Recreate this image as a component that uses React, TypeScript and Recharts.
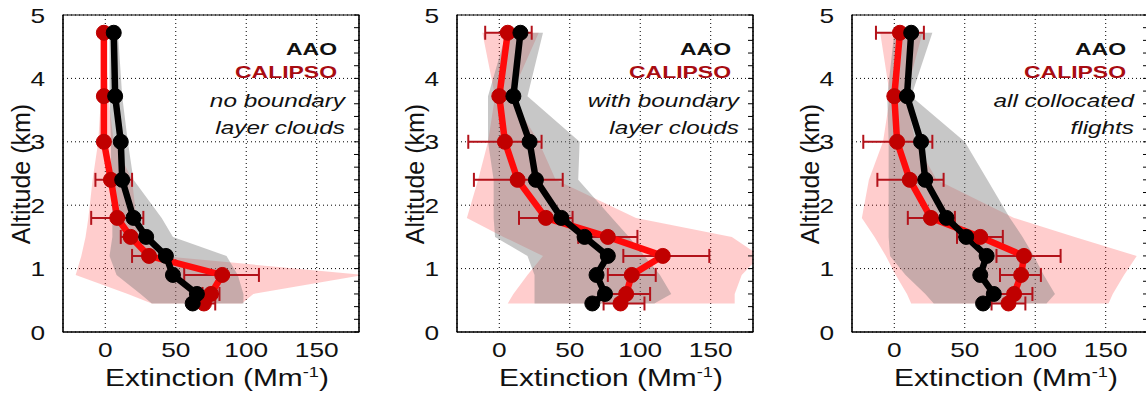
// App.tsx – AAO vs CALIPSO extinction profiles, three panels (no BL clouds / with BL clouds / all flights)

import {
  ComposedChart, Line, Area, XAxis, YAxis,
  CartesianGrid, ErrorBar, ReferenceArea,
} from "recharts";

// ─── Data ─────────────────────────────────────────────────────────────────────

const ALT = [4.72, 3.72, 3.0, 2.4, 1.8, 1.5, 1.2, 0.9, 0.6, 0.45];

// panel 1: no boundary layer clouds
const AAO_1 = [6, 7, 11, 12, 20, 29, 43, 48, 65, 62];
const CAL_1 = [-1, -1, -1, 4, 8.5, 18, 31, 83, 75, 70];
const CAL_LO_1 = [-1, -1, -1, -7, -10, 11, 19, 56, 69, 62];
const CAL_HI_1 = [-1, -1, -1, 19, 27, 25, 43, 109, 81, 78];
const AAO_BAND_LO_1 = [3, 3, 4, 4, 5, 5, 3, 8, 25, 33];
const AAO_BAND_HI_1 = [9, 12, 16, 20, 40, 48, 86, 94, 98, 98];
const CAL_BAND_LO_1 = [-1, -3, -5, -9, -12, -14, -17, -21, 16, 33];
const CAL_BAND_HI_1 = [0, 2, 6, 19, 22, 24, 40, 183, 105, 97];

// panel 2: with boundary layer clouds
const AAO_2 = [15, 10, 21.5, 26, 44, 60.5, 77, 69, 75, 66];
const CAL_2 = [6, 0, 4, 13, 33, 77, 116, 94, 90, 86];
const CAL_LO_2 = [-10, 0, -22, -18, 14, 56, 88, 77, 73, 74];
const CAL_HI_2 = [23, 0, 30, 45, 52, 98, 149, 111, 107, 103];
const AAO_BAND_LO_2 = [5, -8, -8, -4, -4, -3, 20, 25, 25, 25];
const AAO_BAND_HI_2 = [31, 20, 57, 56, 80, 92, 103, 114, 122, 110];
const CAL_BAND_LO_2 = [-12, -3, -8, -15, -23, 3, 31, 20, 10, 6];
const CAL_BAND_HI_2 = [28, 8, 28, 40, 97, 165, 185, 172, 167, 167];

// panel 3: all collocated flights
const AAO_3 = [12, 9, 19, 22, 37, 51, 65.5, 61, 70.6, 63];
const CAL_3 = [4, 0, 2, 11, 26, 61, 92, 90, 85, 81];
const CAL_LO_3 = [-13, 0, -22, -12, 9.6, 44.5, 72.5, 75, 72, 69];
const CAL_HI_3 = [21, 0, 27, 35, 43, 77, 118, 104, 98, 93];
const AAO_BAND_LO_3 = [0, -5, -4, -4, -4, -4, -3, 8, 22, 28];
const AAO_BAND_HI_3 = [27, 12, 50, 66, 82, 91, 99, 106, 114, 108];
const CAL_BAND_LO_3 = [-10, -3, -8, -18, -23, -14, -6, 1, 9, 12];
const CAL_BAND_HI_3 = [20, 8, 15, 30, 85, 128, 172, 163, 155, 152];

const X_TICKS = [0, 50, 100, 150];
const Y_TICKS = [0, 1, 2, 3, 4, 5];
const MINOR_TICKS = [0, 0.2, 0.4, 0.6, 0.8, 1, 1.2, 1.4, 1.6, 1.8, 2, 2.2, 2.4, 2.6, 2.8, 3, 3.2, 3.4, 3.6, 3.8, 4, 4.2, 4.4, 4.6, 4.8, 5];

const NOTES = [
  ["no boundary", "layer clouds"],
  ["with boundary", "layer clouds"],
  ["all collocated", "flights"],
];

// ─── Layout / style ───────────────────────────────────────────────────────────

const FONT = "'Liberation Sans', Arial, Helvetica, sans-serif";
const SX = 1.25; // source figure is stretched horizontally
const PLOT_LEFTS = [63, 457, 852];
const PLOT_W = 295;
const PLOT_TOP = 15;
const PLOT_BOTTOM = 332;
const Y_AXIS_W = 55;

const RED_LINE = "#ff0a0a";
const RED_DOT = "#c00000";
const RED_ERR = "#b3121a";
const RED_TEXT = "#a80c12";

type Row = Record<string, unknown>;

function buildRows(aao: number[], cal: number[], lo: number[], hi: number[],
  aLo: number[], aHi: number[], cLo: number[], cHi: number[]): Row[] {
  return ALT.map((alt, i) => ({
    alt,
    aao: aao[i],
    cal: cal[i],
    calErr: [cal[i] - lo[i], hi[i] - cal[i]],
    aaoBand: [aLo[i], aHi[i]],
    calBand: [cLo[i], cHi[i]],
  }));
}

const PANELS = [
  buildRows(AAO_1, CAL_1, CAL_LO_1, CAL_HI_1, AAO_BAND_LO_1, AAO_BAND_HI_1, CAL_BAND_LO_1, CAL_BAND_HI_1),
  buildRows(AAO_2, CAL_2, CAL_LO_2, CAL_HI_2, AAO_BAND_LO_2, AAO_BAND_HI_2, CAL_BAND_LO_2, CAL_BAND_HI_2),
  buildRows(AAO_3, CAL_3, CAL_LO_3, CAL_HI_3, AAO_BAND_LO_3, AAO_BAND_HI_3, CAL_BAND_LO_3, CAL_BAND_HI_3),
];

// ─── Ticks ────────────────────────────────────────────────────────────────────

function XTick(props: any) {
  const { x, y, payload } = props;
  return (
    <text transform={`translate(${x},${y}) scale(${SX},1)`} textAnchor="middle" dy="0.72em"
      fontSize={21} fontFamily={FONT} fill="#111">{payload.value}</text>
  );
}

function YTick(props: any) {
  const { x, y, payload } = props;
  return (
    <text transform={`translate(${x},${y}) scale(${SX},1)`} textAnchor="end" dy="0.36em"
      fontSize={21} fontFamily={FONT} fill="#111">{payload.value}</text>
  );
}

const NoLabel = () => <g />;

// ─── Panel ────────────────────────────────────────────────────────────────────

function Panel({ idx }: { idx: number }) {
  const plotLeft = PLOT_LEFTS[idx]!;
  const plotRight = plotLeft + PLOT_W;
  const rows = PANELS[idx]!;
  const note = NOTES[idx]!;
  return (
    <>
      <div style={{ position: "absolute", left: plotLeft - Y_AXIS_W, top: 0 }}>
        <ComposedChart layout="vertical" width={Y_AXIS_W + PLOT_W + 5} height={404} data={rows}
          margin={{ top: PLOT_TOP, right: 4, bottom: 0, left: 0 }}>
          <CartesianGrid stroke="#000" strokeDasharray="1 3" />
          <XAxis type="number" domain={[-30, 180]} ticks={X_TICKS} allowDataOverflow
            height={404 - PLOT_BOTTOM} tickSize={0} tickMargin={10} tick={<XTick />} stroke="#000" />
          {/* vertical layout draws a numeric Y axis top-down, so flip it */}
          <YAxis type="number" dataKey="alt" domain={[0, 5]} ticks={Y_TICKS} allowDataOverflow reversed
            width={Y_AXIS_W} tickSize={0} tickMargin={18} tick={<YTick />} stroke="#000" />
          <YAxis yAxisId="r" orientation="right" type="number" dataKey="alt" domain={[0, 5]} reversed
            ticks={MINOR_TICKS} interval={0} width={2} mirror tick={<NoLabel />} tickSize={5}
            tickLine={{ stroke: "#000", strokeWidth: 1 }} stroke="#000" />
          <Area dataKey="calBand" fill="#ff3030" fillOpacity={0.24} stroke="none" isAnimationActive={false} />
          <Area dataKey="aaoBand" fill="#7a7a7a" fillOpacity={0.42} stroke="none" isAnimationActive={false} />
          {/* invisible series so the right-hand minor-tick axis gets rendered */}
          <Line yAxisId="r" dataKey="aao" stroke="none" dot={false} activeDot={false} isAnimationActive={false} />
          <Line dataKey="cal" stroke={RED_LINE} strokeWidth={6.5} isAnimationActive={false}
            dot={{ r: 7.5, fill: RED_DOT, stroke: RED_DOT, strokeWidth: 1 }}>
            <ErrorBar dataKey="calErr" direction="x" width={7} stroke={RED_ERR} strokeWidth={2} />
          </Line>
          <Line dataKey="aao" stroke="#000" strokeWidth={6.5} isAnimationActive={false}
            dot={{ r: 7.5, fill: "#000", stroke: "#000", strokeWidth: 1 }} />
          <ReferenceArea x1={-30} x2={180} y1={0} y2={5} fill="none" stroke="#000" strokeWidth={1.2} />
        </ComposedChart>
      </div>

      {/* axis titles */}
      <div style={{
        position: "absolute", left: plotLeft - 42, top: (PLOT_TOP + PLOT_BOTTOM) / 2,
        transform: "translate(-50%, -50%) rotate(-90deg)", whiteSpace: "nowrap",
        fontFamily: FONT, fontSize: 25, color: "#111", lineHeight: "25px",
      }}>Altitude (km)</div>
      <div style={{
        position: "absolute", left: plotLeft + PLOT_W / 2 + 6 - 200, width: 400, top: 367,
        textAlign: "center", whiteSpace: "nowrap", transform: `scaleX(${SX + 0.05})`,
        fontFamily: FONT, fontSize: 23, color: "#111", lineHeight: "23px",
      }}>Extinction (Mm<sup style={{ fontSize: 14, lineHeight: 0 }}>-1</sup>)</div>

      {/* legend-like annotation */}
      {[
        { text: "AAO", top: 40.6, size: 17, weight: 700, style: "normal", color: "#111", off: 21 },
        { text: "CALIPSO", top: 64, size: 17, weight: 700, style: "normal", color: RED_TEXT, off: 21 },
        { text: note[0], top: 92, size: 18, weight: 400, style: "italic", color: "#111", off: 13 },
        { text: note[1], top: 119, size: 18, weight: 400, style: "italic", color: "#111", off: 13 },
      ].map((t) => (
        <div key={t.text} style={{
          position: "absolute", left: plotRight - t.off - 300, width: 300, top: t.top,
          textAlign: "right", whiteSpace: "nowrap", transform: "scaleX(1.35)", transformOrigin: "right",
          fontFamily: FONT, fontSize: t.size, fontWeight: t.weight, fontStyle: t.style,
          color: t.color, lineHeight: `${t.size}px`,
        }}>{t.text}</div>
      ))}
    </>
  );
}

export default function App() {
  return (
    <div style={{ position: "absolute", left: 0, top: 0, width: 1146, height: 404, overflow: "hidden", background: "#fff" }}>
      <Panel idx={0} />
      <Panel idx={1} />
      <Panel idx={2} />
    </div>
  );
}
